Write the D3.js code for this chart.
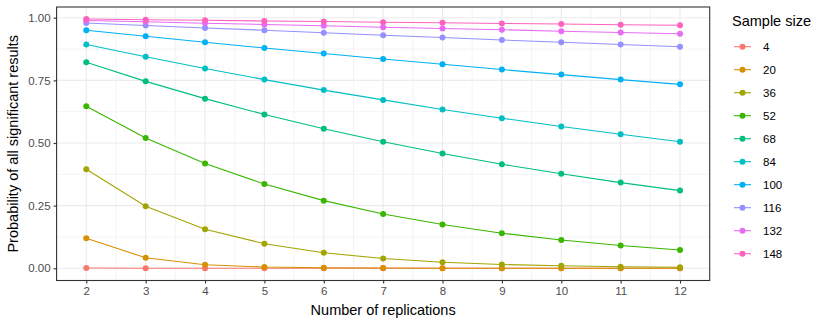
<!DOCTYPE html>
<html><head><meta charset="utf-8">
<script src="https://cdn.jsdelivr.net/npm/d3@7/dist/d3.min.js"></script>
<style>body{margin:0;background:#fff;} svg{display:block;font-family:"Liberation Sans",Arial,Helvetica,sans-serif;}</style>
</head><body>
<script>
const replications = [2,3,4,5,6,7,8,9,10,11,12];
const sampleSizes = ["4","20","36","52","68","84","100","116","132","148"];
const colors = ["#F8766D","#D89000","#A3A500","#39B600","#00BF7D","#00BFC4","#00B0F6","#9590FF","#E76BF3","#FF62BC"];
const s4   = [0.001,0.000,0.000,0.000,0.000,0.000,0.000,0.000,0.000,0.000,0.000];
const s20  = [0.120,0.042,0.014,0.005,0.002,0.001,0.000,0.000,0.000,0.000,0.000];
const s36  = [0.395,0.248,0.156,0.098,0.062,0.039,0.024,0.015,0.010,0.006,0.004];
const s52  = [0.647,0.520,0.418,0.336,0.270,0.217,0.175,0.140,0.113,0.091,0.073];
const s68  = [0.822,0.746,0.677,0.614,0.557,0.505,0.458,0.415,0.377,0.342,0.310];
const s84  = [0.893,0.844,0.797,0.753,0.711,0.672,0.634,0.599,0.566,0.535,0.505];
const s100 = [0.950,0.926,0.902,0.879,0.857,0.835,0.814,0.793,0.773,0.753,0.734];
const s116 = [0.979,0.969,0.959,0.950,0.940,0.930,0.921,0.911,0.902,0.893,0.884];
const s132 = [0.989,0.984,0.978,0.973,0.968,0.962,0.957,0.952,0.946,0.941,0.936];
const s148 = [0.995,0.992,0.990,0.987,0.985,0.982,0.980,0.977,0.975,0.972,0.970];
const seriesValues = [s4,s20,s36,s52,s68,s84,s100,s116,s132,s148];
const yTicks = [0,0.25,0.5,0.75,1];
const yMinor = [0.125,0.375,0.625,0.875];
const xMinor = [2.5,3.5,4.5,5.5,6.5,7.5,8.5,9.5,10.5,11.5];

const W=830,H=325;
const svg=d3.select("body").append("svg").attr("width",W).attr("height",H);
const pl=56.6, pr=709.7, pt=7, pb=280.5;
const x=d3.scaleLinear().domain([1.5,12.5]).range([pl,pr]);
const y=d3.scaleLinear().domain([0,1]).range([268.3,17.7]);

const g=svg.append("g");
// minor grid
g.selectAll(".xm").data(xMinor).enter().append("line").attr("x1",d=>x(d)).attr("x2",d=>x(d)).attr("y1",pt).attr("y2",pb).attr("stroke","#EBEBEB").attr("stroke-width",0.55);
g.selectAll(".ym").data(yMinor).enter().append("line").attr("y1",d=>y(d)).attr("y2",d=>y(d)).attr("x1",pl).attr("x2",pr).attr("stroke","#EBEBEB").attr("stroke-width",0.55);
// major grid
g.selectAll(".xg").data(replications).enter().append("line").attr("x1",d=>x(d)).attr("x2",d=>x(d)).attr("y1",pt).attr("y2",pb).attr("stroke","#EBEBEB").attr("stroke-width",1.1);
g.selectAll(".yg").data(yTicks).enter().append("line").attr("y1",d=>y(d)).attr("y2",d=>y(d)).attr("x1",pl).attr("x2",pr).attr("stroke","#EBEBEB").attr("stroke-width",1.1);

// lines
const line=d3.line().x((d,i)=>x(replications[i])).y(d=>y(d));
seriesValues.forEach((vals,k)=>{
  g.append("path").attr("d",line(vals)).attr("fill","none").attr("stroke",colors[k]).attr("stroke-width",1.1);
});
seriesValues.forEach((vals,k)=>{
  g.selectAll(null).data(vals).enter().append("circle").attr("cx",(d,i)=>x(replications[i])).attr("cy",d=>y(d)).attr("r",3).attr("fill",colors[k]);
});

// border
svg.append("rect").attr("x",pl).attr("y",pt).attr("width",pr-pl).attr("height",pb-pt).attr("fill","none").attr("stroke","#333333").attr("stroke-width",1.1);

// axes
const xa=svg.append("g").attr("transform",`translate(0,${pb})`).call(d3.axisBottom(x).tickValues(replications).tickSize(3).tickPadding(3).tickFormat(d3.format("d")));
const ya=svg.append("g").attr("transform",`translate(${pl},0)`).call(d3.axisLeft(y).tickValues(yTicks).tickSize(3).tickPadding(3).tickFormat(d3.format(".2f")));
[xa,ya].forEach(a=>{
  a.select(".domain").remove();
  a.selectAll(".tick line").attr("stroke","#333333").attr("stroke-width",1.1);
  a.selectAll(".tick text").attr("fill","#4D4D4D").style("font-size","11.5px").style("font-family","Liberation Sans, Arial, sans-serif");
});

svg.append("text").attr("x",(pl+pr)/2).attr("y",315).attr("text-anchor","middle").style("font-size","14.5px").attr("fill","#000").text("Number of replications");
svg.append("text").attr("transform",`translate(18,${(pt+pb)/2}) rotate(-90)`).attr("text-anchor","middle").style("font-size","14.5px").attr("fill","#000").text("Probability of all significant results");

// legend
const lg=svg.append("g");
lg.append("text").attr("x",732).attr("y",26).style("font-size","14.5px").attr("fill","#000").text("Sample size");
sampleSizes.forEach((s,k)=>{
  const cy=46.7+k*23.0;
  lg.append("line").attr("x1",734).attr("x2",751).attr("y1",cy).attr("y2",cy).attr("stroke",colors[k]).attr("stroke-width",1.1);
  lg.append("circle").attr("cx",742.5).attr("cy",cy).attr("r",3).attr("fill",colors[k]);
  lg.append("text").attr("x",763).attr("y",cy+4).style("font-size","11.5px").attr("fill","#000").text(s);
});
</script>
</body></html>
